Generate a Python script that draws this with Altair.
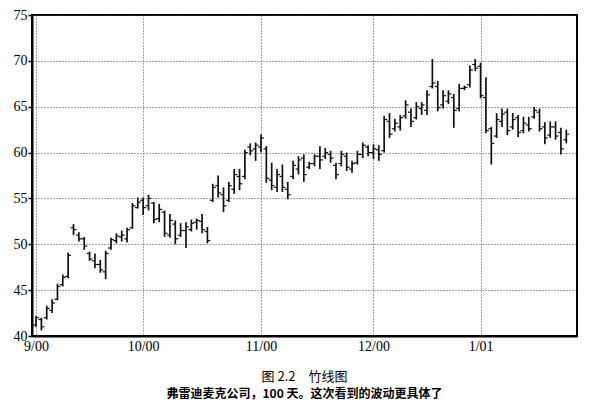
import altair as alt
import pandas as pd

# trading-day index 0..99 (Sep 2000 - Jan 2001)
high = [42.2, 42.0, 43.3, 44.0, 45.7, 46.7, 49.1, 52.2, 51.3, 50.8,
        49.2, 49.0, 48.3, 49.3, 50.7, 51.2, 51.5, 51.8, 54.5, 55.1,
        55.1, 55.4, 54.6, 54.4, 53.7, 53.3, 52.6, 52.3, 52.4, 52.7,
        52.8, 53.3, 51.9, 56.6, 57.5, 56.2, 56.8, 58.2, 58.2, 60.3,
        61.0, 61.1, 62.0, 60.7, 58.9, 58.2, 58.7, 56.8, 59.1, 59.6,
        59.8, 59.0, 59.8, 60.7, 60.5, 60.2, 58.9, 60.2, 60.0, 59.1,
        60.2, 61.1, 60.8, 60.9, 60.8, 64.0, 64.3, 63.7, 64.1, 65.7,
        64.8, 65.5, 65.5, 66.8, 70.2, 67.8, 66.8, 66.8, 66.4, 67.5,
        67.3, 69.5, 70.2, 69.8, 68.2, 62.8, 64.3, 64.8, 64.8, 64.3,
        64.1, 63.9, 63.9, 65.0, 64.8, 63.3, 63.4, 63.4, 62.7, 62.5]
low = [41.0, 40.6, 41.8, 42.5, 43.9, 45.4, 46.3, 51.0, 50.3, 49.4,
       48.2, 47.4, 46.9, 46.2, 49.4, 50.1, 50.3, 50.2, 51.7, 53.9,
       53.2, 53.7, 52.3, 52.4, 50.8, 50.7, 50.0, 50.8, 49.6, 51.4,
       51.6, 51.2, 50.1, 54.6, 55.1, 53.5, 54.6, 55.5, 55.9, 57.1,
       59.7, 59.1, 60.0, 56.7, 55.9, 55.7, 55.7, 54.9, 57.1, 57.6,
       56.8, 58.2, 58.5, 58.2, 59.3, 58.9, 57.1, 58.5, 58.0, 57.8,
       58.7, 59.4, 59.6, 59.3, 59.1, 60.0, 61.6, 62.3, 62.4, 63.7,
       62.8, 63.6, 64.1, 64.1, 67.0, 64.5, 64.8, 65.3, 62.7, 64.5,
       66.8, 67.1, 68.9, 65.9, 62.1, 58.7, 61.6, 62.8, 61.9, 62.5,
       61.7, 62.1, 62.3, 63.7, 62.3, 60.9, 61.6, 61.4, 59.8, 61.0]
open_ = [41.2, 41.8, 42.0, 42.8, 44.0, 45.6, 46.5, 51.8, 51.0, 50.6,
         49.0, 48.2, 47.8, 47.0, 49.6, 50.4, 50.8, 50.6, 51.8, 54.0,
         54.8, 54.2, 54.5, 52.8, 53.5, 51.0, 52.2, 51.0, 51.5, 51.6,
         52.4, 52.5, 51.4, 54.8, 56.4, 55.4, 54.8, 56.0, 57.4, 57.4,
         60.6, 60.4, 60.6, 60.4, 57.0, 56.2, 57.4, 56.0, 57.4, 58.2,
         59.4, 58.4, 58.8, 59.6, 59.6, 59.8, 58.6, 58.8, 59.6, 58.2,
         58.9, 59.8, 60.6, 60.0, 60.3, 60.2, 63.4, 62.6, 62.8, 64.0,
         64.4, 63.8, 64.8, 64.6, 67.2, 67.2, 65.2, 65.6, 66.0, 64.8,
         67.0, 67.4, 69.6, 69.4, 66.0, 62.6, 61.8, 63.4, 64.4, 62.8,
         63.8, 62.4, 63.0, 63.9, 64.4, 62.8, 61.9, 62.8, 62.2, 61.4]
close = [42.0, 41.0, 43.0, 43.6, 45.4, 46.4, 48.8, 51.6, 50.6, 49.8,
         48.4, 47.8, 47.2, 49.0, 50.5, 50.9, 51.0, 51.6, 54.2, 54.6,
         54.0, 55.0, 52.7, 53.8, 51.2, 52.6, 50.6, 51.5, 51.9, 52.3,
         52.6, 51.6, 50.4, 56.2, 55.6, 54.2, 56.4, 57.6, 56.6, 60.0,
         60.2, 60.8, 61.6, 57.2, 56.4, 57.6, 56.2, 55.4, 58.6, 59.2,
         57.6, 58.8, 59.6, 59.2, 60.0, 59.4, 57.6, 59.8, 58.4, 58.8,
         59.8, 60.8, 60.0, 60.4, 59.8, 63.6, 62.0, 63.2, 63.8, 65.2,
         63.4, 65.0, 65.2, 66.3, 67.6, 64.9, 66.2, 66.4, 64.6, 67.0,
         67.1, 69.0, 69.2, 66.2, 62.4, 61.0, 63.6, 64.2, 62.4, 63.6,
         62.2, 63.2, 62.6, 64.6, 62.6, 61.6, 62.8, 61.8, 60.4, 62.0]

month_ticks = [0, 20, 42, 63, 83]
month_labels = ["9/00", "10/00", "11/00", "12/00", "1/01"]

df = pd.DataFrame({"i": list(range(len(high))), "high": high, "low": low,
                   "open": open_, "close": close})

label_expr = "''"
for t, l in zip(reversed(month_ticks), reversed(month_labels)):
    label_expr = f"datum.value == {t} ? '{l}' : ({label_expr})"

xscale = alt.Scale(domain=[-0.75, 101], nice=False, zero=False)
yscale = alt.Scale(domain=[40, 75], nice=False, zero=False)

xaxis = alt.Axis(values=month_ticks, labelExpr=label_expr, title=None,
                 grid=True, gridDash=[1, 2], gridColor="#444", gridWidth=1,
                 ticks=False, labelPadding=3, labelFont="Liberation Serif",
                 labelFontSize=14, labelColor="#000", domainColor="#000",
                 domainWidth=2)
yaxis = alt.Axis(values=list(range(40, 80, 5)), title=None, grid=True,
                 gridDash=[1, 2], gridColor="#444", gridWidth=1,
                 tickSize=4, tickColor="#000", tickWidth=1.5, labelPadding=1,
                 labelFont="Liberation Serif", labelFontSize=14,
                 labelColor="#000", domainColor="#000", domainWidth=2)

base = alt.Chart(df)

hl = base.mark_rule(color="#111", strokeWidth=1.7).encode(
    x=alt.X("i:Q", scale=xscale, axis=xaxis),
    y=alt.Y("low:Q", scale=yscale, axis=yaxis),
    y2="high:Q",
)
op = base.transform_calculate(xl="datum.i - 0.55").mark_rule(
    color="#111", strokeWidth=1.2).encode(
    x=alt.X("xl:Q", scale=xscale, axis=xaxis),
    x2="i:Q",
    y=alt.Y("open:Q", scale=yscale, axis=yaxis),
)
cl = base.transform_calculate(xr="datum.i + 0.55").mark_rule(
    color="#111", strokeWidth=1.2).encode(
    x=alt.X("i:Q", scale=xscale, axis=xaxis),
    x2="xr:Q",
    y=alt.Y("close:Q", scale=yscale, axis=yaxis),
)

chart = alt.layer(hl, op, cl).properties(
    width=545, height=321,
    autosize=alt.AutoSizeParams(type="none"),
    padding={"left": 24, "top": 7, "right": 5, "bottom": 72},
    title=alt.TitleParams(
        text="图 2.2\u3000竹线图",
        subtitle="弗雷迪麦克公司，100 天。这次看到的波动更具体了",
        orient="bottom", anchor="middle", offset=18,
        font="Noto Sans CJK SC", fontSize=13, fontWeight="normal", color="#000",
        subtitleFont="Noto Sans CJK SC", subtitleFontSize=12,
        subtitleFontWeight="bold", subtitleColor="#000", subtitlePadding=5,
    ),
).configure_view(stroke="#000", strokeWidth=2)

chart.save("out.html", embed_options={"renderer": "svg", "actions": False})
